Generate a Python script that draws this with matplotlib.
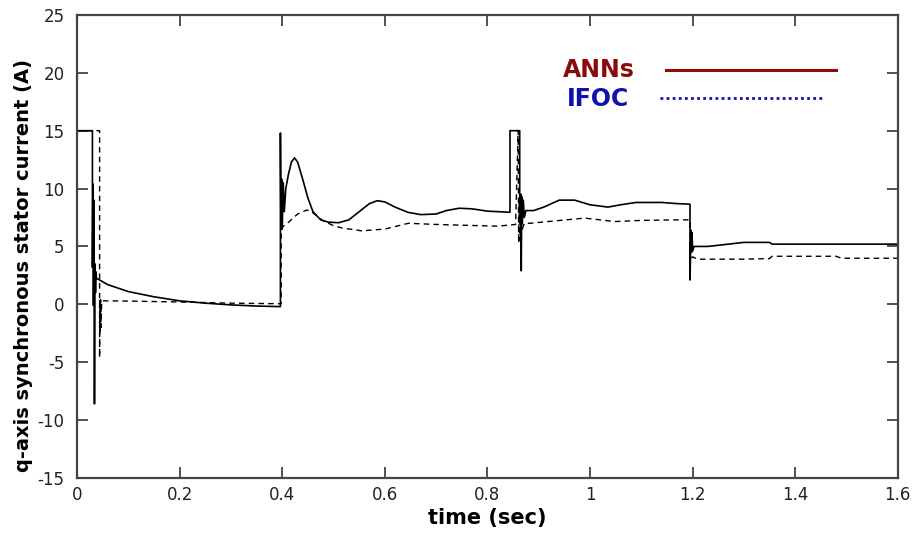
import matplotlib
matplotlib.use("Agg")
import matplotlib.pyplot as plt

plt.rcParams['font.family'] = ['DejaVu Sans']
plt.rcParams['axes.unicode_minus'] = False

# ANNs controller: q-axis current (solid)
t_ann = [0.0, 0.030, 0.030, 0.031, 0.032, 0.033, 0.034, 0.035, 0.036, 0.037, 0.038, 0.040,
         0.06, 0.10, 0.15, 0.20, 0.25, 0.30, 0.35, 0.3965,
         0.3965, 0.3975, 0.399, 0.400, 0.402, 0.404, 0.407, 0.412, 0.418, 0.424, 0.43,
         0.44, 0.45, 0.46, 0.475, 0.49, 0.51, 0.53, 0.55, 0.57, 0.585, 0.60, 0.62,
         0.645, 0.67, 0.70, 0.72, 0.745, 0.77, 0.80, 0.844,
         0.844, 0.863, 0.863, 0.865, 0.866, 0.867, 0.868, 0.870, 0.872, 0.875,
         0.89, 0.91, 0.94, 0.97, 1.0, 1.035, 1.06, 1.09, 1.14, 1.17, 1.195,
         1.195, 1.197, 1.198, 1.199, 1.200, 1.203, 1.23, 1.26, 1.30, 1.35, 1.355, 1.6]
i_ann = [15.0, 15.0, 3.2, 10.4, -0.1, 9.0, -8.6, 3.5, 1.0, 2.8, 2.2,
         2.2, 1.7, 1.1, 0.65, 0.3, 0.1, -0.05, -0.15, -0.2,
         14.8, 6.5, 10.8, 6.5, 10.5, 8.0, 10.0, 11.2, 12.3, 12.65, 12.3,
         10.8, 9.2, 8.0, 7.3, 7.1, 7.05, 7.3, 8.0, 8.7, 8.95, 8.85, 8.4,
         7.95, 7.75, 7.8, 8.1, 8.3, 8.25, 8.05, 7.95,
         15.0, 15.0, 7.5, 9.5, 2.9, 9.3, 7.0, 9.0, 7.5, 8.1,
         8.1, 8.4, 9.0, 9.0, 8.6, 8.4, 8.6, 8.8, 8.8, 8.7, 8.65,
         2.1, 6.4, 4.5, 6.2, 4.6, 5.0, 5.0, 5.15, 5.35, 5.35, 5.2, 5.2]

# IFOC controller: q-axis current (dashed)
t_ifoc = [0.0, 0.044, 0.044, 0.0445, 0.045, 0.046, 0.047, 0.048,
          0.10, 0.20, 0.30, 0.398,
          0.398, 0.41, 0.43, 0.448, 0.46, 0.48, 0.50, 0.516, 0.555, 0.60, 0.646,
          0.70, 0.82, 0.855,
          0.86, 0.861, 0.862, 0.864, 0.866, 0.868, 0.872, 0.883, 0.93, 0.99,
          1.048, 1.10, 1.178, 1.195,
          1.195, 1.20, 1.21, 1.30, 1.35, 1.355, 1.48, 1.49, 1.6]
i_ifoc = [15.0, 15.0, -4.6, 0.4, -2.4, 0.4, -2.0, 0.3,
          0.28, 0.2, 0.1, 0.05,
          6.6, 7.0, 7.8, 8.15, 7.9, 7.2, 6.8, 6.6, 6.35, 6.5, 7.0,
          6.9, 6.75, 6.9,
          15.0, 5.3, 9.0, 5.5, 8.0, 6.5, 7.0, 7.0, 7.2, 7.45,
          7.15, 7.25, 7.3, 7.3,
          3.87, 4.1, 3.9, 3.9, 3.95, 4.15, 4.15, 3.98, 3.98]

x_ticks = [0, 0.2, 0.4, 0.6, 0.8, 1.0, 1.2, 1.4, 1.6]
x_labels = ['0', '0.2', '0.4', '0.6', '0.8', '1', '1.2', '1.4', '1.6']
y_ticks = [-15, -10, -5, 0, 5, 10, 15, 20, 25]

ann_color = '#8b0a0a'
ifoc_color = '#1010b0'

fig = plt.figure(figsize=(9.17, 5.34), dpi=100)
ax = fig.add_axes([0.084, 0.105, 0.895, 0.867])

ax.plot(t_ann, i_ann, color='black', lw=1.2)
ax.plot(t_ifoc, i_ifoc, color='black', lw=1.0, linestyle=(0, (4, 3)))

ax.set_xlim(0, 1.6)
ax.set_ylim(-15, 25)
ax.set_xticks(x_ticks)
ax.set_xticklabels(x_labels)
ax.set_yticks(y_ticks)
ax.tick_params(direction='in', length=8, width=1.2, top=True, right=True,
               labelsize=12, colors='#333333', labelcolor='#222222')
ax.tick_params(axis='x', pad=6)
ax.tick_params(axis='y', pad=9)
for s in ax.spines.values():
    s.set_linewidth(1.6)
    s.set_color('#444444')

ax.set_xlabel('time (sec)', fontsize=15, fontweight='bold')
ax.xaxis.set_label_coords(0.5, -0.066)
ax.set_ylabel('q-axis synchronous stator current (A)', fontsize=14,
              fontweight='bold')
ax.yaxis.set_label_coords(-0.054, 0.458)

# key: label first, then line sample
ax.text(0.592, 0.881, 'ANNs', transform=ax.transAxes, color=ann_color,
        fontsize=17, fontweight='bold', va='center', ha='left')
ax.plot([0.7174, 0.9245], [0.881, 0.881], transform=ax.transAxes,
        color=ann_color, lw=2.2)
ax.text(0.597, 0.8186, 'IFOC', transform=ax.transAxes, color=ifoc_color,
        fontsize=17, fontweight='bold', va='center', ha='left')
ax.plot([0.7101, 0.9099], [0.8207, 0.8207], transform=ax.transAxes,
        color=ifoc_color, lw=2.0, linestyle=(0, (1, 1.2)))

fig.savefig('out.png', dpi=100)
